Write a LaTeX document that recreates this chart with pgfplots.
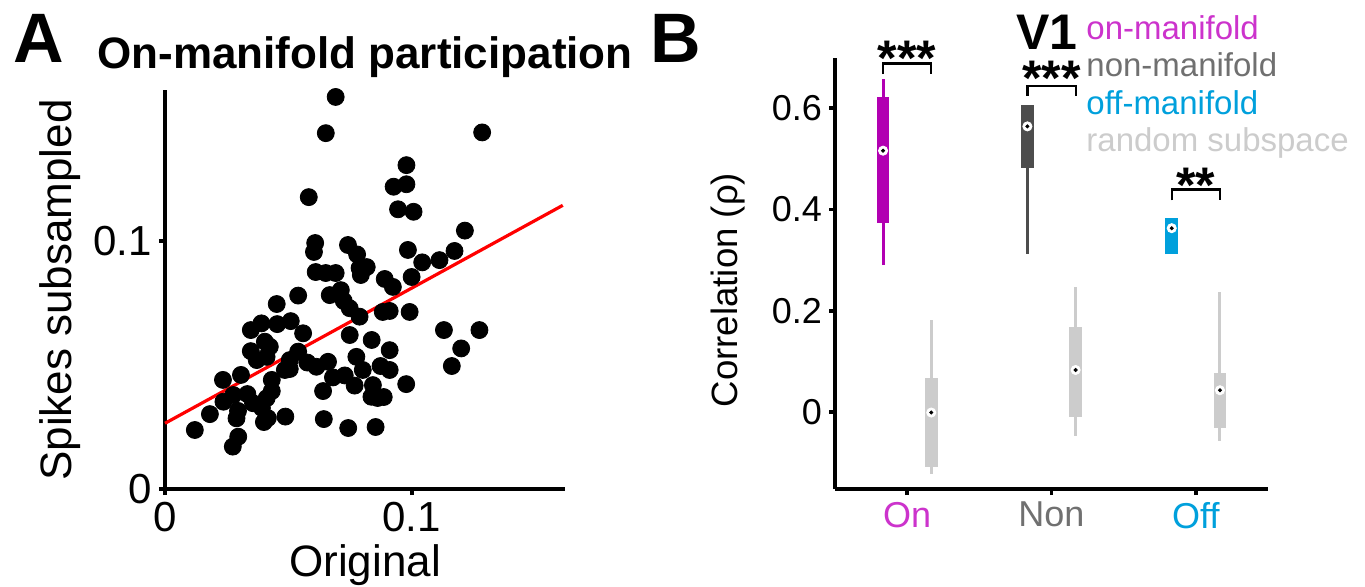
\documentclass[border=0pt]{standalone}
\usepackage{fontspec}
\setmainfont{Liberation Sans}
\usepackage{pgfplots}
\pgfplotsset{compat=1.18}

\definecolor{onBox}{RGB}{178,0,178}
\definecolor{onText}{RGB}{204,51,204}
\definecolor{nonBox}{RGB}{77,77,77}
\definecolor{nonText}{RGB}{112,112,112}
\definecolor{offBox}{RGB}{0,160,220}
\definecolor{randBox}{RGB}{204,204,204}

\newcommand{\fs}[1]{\fontsize{#1}{#1}\selectfont}

\begin{document}
\begin{tikzpicture}
% page frame in reference pixels (1px = 0.5pt)
\begin{scope}[x=0.5pt,y=-0.5pt]
\useasboundingbox (0,0) rectangle (1365,586);
\end{scope}

% ---------- panel A: scatter ----------
\begin{axis}[
    at={(82.5pt,-244.5pt)}, anchor=south west,
    scale only axis, width=200pt, height=199.5pt,
    xmin=0, xmax=0.1622, ymin=0, ymax=0.1609,
    axis lines=left, axis line style={line width=2pt, -},
    tick style={line width=2pt, black}, tick align=outside,
    major tick length=3pt,
    xtick={0,0.1}, xticklabels={0,0.1},
    ytick={0,0.1}, yticklabels={0,0.1},
    ticklabel style={font=\fs{21}},
    clip=false,
]
\addplot[only marks, mark=*, mark size=4.25pt, black] table {
x y
0.0692 0.1581
0.0652 0.1435
0.1286 0.1438
0.0583 0.1177
0.0979 0.1306
0.0927 0.1219
0.0979 0.1229
0.0945 0.1128
0.1008 0.1118
0.1216 0.1042
0.1174 0.0960
0.1113 0.0923
0.1043 0.0914
0.0985 0.0964
0.1000 0.0855
0.0891 0.0847
0.0924 0.0815
0.0742 0.0984
0.0609 0.0992
0.0604 0.0956
0.0779 0.0946
0.0789 0.0891
0.0818 0.0895
0.0794 0.0863
0.0692 0.0871
0.0652 0.0871
0.0611 0.0875
0.0713 0.0802
0.0725 0.0758
0.0789 0.0695
0.0749 0.0729
0.0883 0.0714
0.0911 0.0718
0.0992 0.0714
0.1131 0.0641
0.1275 0.0641
0.1201 0.0567
0.1163 0.0496
0.0749 0.0621
0.0838 0.0601
0.0911 0.0560
0.0776 0.0533
0.0802 0.0480
0.0729 0.0458
0.0769 0.0417
0.0843 0.0419
0.0874 0.0496
0.0911 0.0480
0.0978 0.0423
0.0837 0.0372
0.0887 0.0371
0.0862 0.0367
0.0743 0.0246
0.0854 0.0250
0.0121 0.0238
0.0182 0.0302
0.0297 0.0211
0.0275 0.0171
0.0235 0.0440
0.0308 0.0460
0.0237 0.0352
0.0277 0.0379
0.0296 0.0315
0.0290 0.0285
0.0334 0.0383
0.0348 0.0641
0.0391 0.0668
0.0455 0.0665
0.0510 0.0677
0.0560 0.0628
0.0453 0.0746
0.0540 0.0780
0.0405 0.0594
0.0425 0.0574
0.0348 0.0556
0.0372 0.0520
0.0412 0.0533
0.0506 0.0520
0.0540 0.0554
0.0486 0.0480
0.0433 0.0440
0.0433 0.0395
0.0412 0.0366
0.0357 0.0346
0.0393 0.0327
0.0417 0.0286
0.0401 0.0270
0.0488 0.0292
0.0577 0.0510
0.0614 0.0493
0.0661 0.0513
0.0681 0.0450
0.0641 0.0395
0.0644 0.0282
0.0668 0.0782
0.0506 0.0484
};
% regression line
\addplot[red, line width=1.6pt] coordinates {(0,0.0265) (0.1613,0.1144)};
\end{axis}

% ---------- panel B: box plots ----------
\begin{axis}[
    at={(417.5pt,-244.5pt)}, anchor=south west,
    scale only axis, width=216.5pt, height=215.5pt,
    xmin=0.5, xmax=3.5, ymin=-0.152, ymax=0.699,
    axis lines=left, axis line style={line width=1.8pt, -},
    tick style={line width=1.8pt, black}, tick align=outside,
    major tick length=3pt,
    xtick={1,2,3},
    xticklabels={\textcolor{onText}{On},\textcolor{nonText}{Non},\textcolor{offBox}{Off}},
    ytick={0,0.2,0.4,0.6}, yticklabels={0,0.2,0.4,0.6},
    ticklabel style={font=\fs{18}},
    clip=false,
    whisk/.style={line width=1.5pt},
    box/.style={line width=6.4pt},
]
% whiskers (lower whisker -- upper whisker)
\addplot[onBox, whisk]   coordinates {(0.833,0.290) (0.833,0.657)};
\addplot[randBox, whisk] coordinates {(1.167,-0.122) (1.167,0.182)};
\addplot[nonBox, whisk]  coordinates {(1.833,0.313) (1.833,0.606)};
\addplot[randBox, whisk] coordinates {(2.167,-0.047) (2.167,0.246)};
\addplot[randBox, whisk] coordinates {(3.167,-0.057) (3.167,0.237)};
% boxes (lower quartile -- upper quartile)
\addplot[onBox, box]   coordinates {(0.833,0.374) (0.833,0.622)};
\addplot[randBox, box] coordinates {(1.167,-0.108) (1.167,0.0665)};
\addplot[nonBox, box]  coordinates {(1.833,0.482) (1.833,0.606)};
\addplot[randBox, box] coordinates {(2.167,-0.009) (2.167,0.168)};
\addplot[offBox, box]  coordinates {(2.833,0.312) (2.833,0.384)};
\addplot[randBox, box] coordinates {(3.167,-0.031) (3.167,0.078)};
% median markers
\addplot[only marks, mark=*, mark size=2.3pt, mark options={fill=white, draw=white}]
    coordinates {(0.833,0.516) (1.167,-0.001) (1.833,0.564) (2.167,0.083) (2.833,0.363) (3.167,0.043)};
\addplot[only marks, mark=*, mark size=0.8pt, black]
    coordinates {(0.833,0.516) (1.167,-0.001) (1.833,0.564) (2.167,0.083) (2.833,0.363) (3.167,0.043)};
% significance brackets
\draw[line width=1.1pt] (axis cs:0.833,0.667) -- (axis cs:0.833,0.688) -- (axis cs:1.167,0.688) -- (axis cs:1.167,0.667);
\draw[line width=1.1pt] (axis cs:1.833,0.624) -- (axis cs:1.833,0.644) -- (axis cs:2.167,0.644) -- (axis cs:2.167,0.624);
\draw[line width=1.1pt] (axis cs:2.833,0.418) -- (axis cs:2.833,0.4395) -- (axis cs:3.167,0.4395) -- (axis cs:3.167,0.418);
\node[anchor=base, font=\bfseries\fs{25}, inner sep=0pt] at (axis cs:1,0.664) {***};
\node[anchor=base, font=\bfseries\fs{25}, inner sep=0pt] at (axis cs:2,0.6246) {***};
\node[anchor=base, font=\bfseries\fs{25}, inner sep=0pt] at (axis cs:3,0.4135) {**};
\end{axis}

% ---------- text (reference pixel coordinates) ----------
\begin{scope}[x=0.5pt,y=-0.5pt]
\node[anchor=base west, inner sep=0pt, font=\bfseries\fs{35}] at (13,62) {A};
\node[anchor=base west, inner sep=0pt, font=\bfseries\fs{35}] at (650,62) {B};
\node[anchor=base, inner sep=0pt, font=\bfseries\fs{22}] at (365,68) {On-manifold participation};
\node[anchor=base, inner sep=0pt, font=\fs{22}] at (365,576) {Original};
\node[anchor=base, inner sep=0pt, font=\fs{22}, rotate=90] at (71,290) {Spikes subsampled};
\node[anchor=base, inner sep=0pt, font=\fs{18.3}, rotate=90] at (737,290) {Correlation (ρ)};
\node[anchor=base west, inner sep=0pt, font=\bfseries\fs{25}] at (1016,49) {V1};
\node[anchor=base west, inner sep=0pt, font=\fs{16.5}, text=onText] at (1086,39.3) {on-manifold};
\node[anchor=base west, inner sep=0pt, font=\fs{16.5}, text=nonText] at (1086,76) {non-manifold};
\node[anchor=base west, inner sep=0pt, font=\fs{16.5}, text=offBox] at (1086,114) {off-manifold};
\node[anchor=base west, inner sep=0pt, font=\fs{16.5}, text=randBox] at (1086,151.7) {random subspace};
\end{scope}
\end{tikzpicture}
\end{document}
